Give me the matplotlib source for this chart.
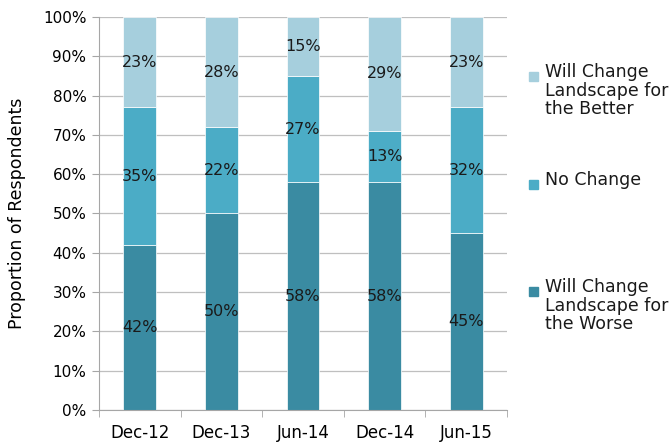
import numpy as np
import matplotlib.pyplot as plt
from matplotlib.patches import Rectangle

# survey waves and stacked shares (%)
periods = ['Dec-12', 'Dec-13', 'Jun-14', 'Dec-14', 'Jun-15']
worse = [42, 50, 58, 58, 45]
no_change = [35, 22, 27, 13, 32]
better = [23, 28, 15, 29, 23]

series_names = ['Will Change\nLandscape for\nthe Worse', 'No Change',
                'Will Change\nLandscape for\nthe Better']
colors = ['#3a8ba2', '#4bacc6', '#a6cfdd']

plt.rcParams['font.family'] = 'DejaVu Sans'
plt.rcParams['font.size'] = 11

fig = plt.figure(figsize=(6.72, 4.44), dpi=100)
ax = fig.add_axes([0.1473, 0.0766, 0.6072, 0.8851])

x = np.arange(len(periods))
bottom = np.zeros(len(periods))
for vals, col in zip([worse, no_change, better], colors):
    vals = np.array(vals, dtype=float)
    ax.bar(x, vals, 0.4, bottom=bottom, color=col, edgecolor='white',
           linewidth=0.5, zorder=2)
    for xi, b, v in zip(x, bottom, vals):
        ax.text(xi, b + v / 2, f'{int(v)}%', ha='center', va='center',
                fontsize=11.5, color='#1a1a1a', zorder=3)
    bottom += vals

ax.set_xlim(-0.5, len(periods) - 0.5)
ax.set_ylim(0, 100)
ax.set_yticks(np.arange(0, 101, 10))
ax.set_yticklabels([f'{v}%' for v in range(0, 101, 10)], fontsize=11)
ax.set_xticks(x)
ax.set_xticklabels(periods, fontsize=12)
ax.set_xticks(np.arange(-0.5, len(periods), 1), minor=True)
ax.tick_params(axis='x', which='major', length=0, pad=10)
ax.tick_params(axis='x', which='minor', length=5, color='#a6a6a6')
ax.tick_params(axis='y', length=5, color='#a6a6a6', pad=4)
ax.grid(axis='y', color='#bfbfbf', linewidth=0.9, zorder=0)
ax.set_axisbelow(True)
for s in ['top', 'right']:
    ax.spines[s].set_visible(False)
for s in ['left', 'bottom']:
    ax.spines[s].set_color('#a6a6a6')
ax.set_ylabel('Proportion of Respondents', fontsize=12.5, labelpad=12)

# legend drawn by hand so the key sits on each label's first line
legend_tops = [287, 180, 72]
for name, col, ytop in zip(series_names, colors, legend_tops):
    yf = 1 - ytop / 444
    fig.patches.append(Rectangle((529 / 672, yf - 9 / 444), 9 / 672, 9 / 444,
                                 transform=fig.transFigure, color=col))
    fig.text(545 / 672, yf + 9 / 444, name, ha='left', va='top',
             fontsize=12.5, color='#1a1a1a', linespacing=1.05)

fig.savefig('out.png', dpi=100)
